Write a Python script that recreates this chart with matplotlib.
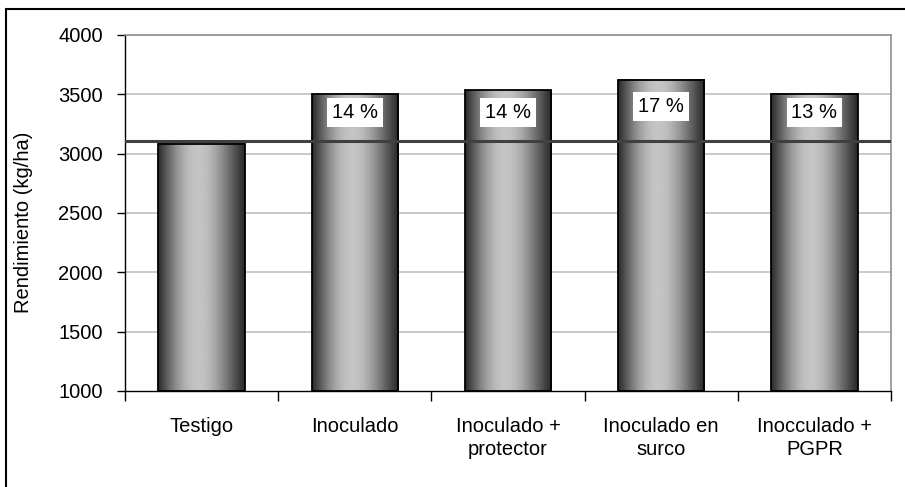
import numpy as np
import matplotlib
matplotlib.use("Agg")
import matplotlib.pyplot as plt
from matplotlib.patches import Rectangle

# Data
categories = ["Testigo", "Inoculado", "Inoculado +\nprotector", "Inoculado en\nsurco", "Inocculado +\nPGPR"]
rendimiento = [3085, 3500, 3534, 3625, 3506]
pct_labels = ["", "14 %", "14 %", "17 %", "13 %"]
pct_label_y = [None, 3345, 3345, 3396, 3345]
testigo_line = 3108

plt.rcParams["font.family"] = ["Liberation Sans", "DejaVu Sans"]
fs = 14.5

fig = plt.figure(figsize=(9.05, 4.87), dpi=100)
ax = fig.add_axes([125 / 905, 96 / 487, 766 / 905, 356 / 487])

ymin, ymax = 1000, 4000

# grid
ax.set_yticks(np.arange(1000, 4001, 500))
for yv in np.arange(1500, 4001, 500):
    ax.axhline(yv, color="#c0c0c0", linewidth=1.2, zorder=0)

# cylinder-like gradient bars
width = 0.565
t = np.linspace(0, 1, 200)
shade = 0.17 + 0.60 * np.sin(np.pi * t ** 0.9) ** 1.2
for i, v in enumerate(rendimiento):
    x0, x1 = i - width / 2, i + width / 2
    ax.imshow(shade[np.newaxis, :], cmap="gray", vmin=0, vmax=1,
              extent=[x0, x1, ymin, v], aspect="auto", zorder=2,
              interpolation="bilinear")
    ax.add_patch(Rectangle((x0, ymin), width, v - ymin, fill=False,
                           edgecolor="black", linewidth=1.3, zorder=3))

ax.set_xlim(-0.5, len(categories) - 0.5)
ax.set_ylim(ymin, ymax)

# reference line (testigo)
ax.axhline(testigo_line, color="#404040", linewidth=2.2, zorder=4)

# percentage labels
for i, (lab, yv) in enumerate(zip(pct_labels, pct_label_y)):
    if lab:
        ax.text(i, yv, lab, ha="center", va="center", fontsize=fs, zorder=5,
                bbox=dict(facecolor="white", edgecolor="none", pad=3.5))

# axes styling
for side in ["top", "right"]:
    ax.spines[side].set_color("#909090")
    ax.spines[side].set_linewidth(1.2)
for side in ["left", "bottom"]:
    ax.spines[side].set_color("black")
    ax.spines[side].set_linewidth(1.0)

ax.tick_params(axis="y", direction="out", length=6, width=1, labelsize=fs, pad=10)
ax.set_xticks(range(len(categories)))
ax.set_xticklabels(categories, fontsize=fs, linespacing=1.25)
ax.tick_params(axis="x", which="major", length=0, pad=19)
ax.set_xticks(np.arange(-0.5, len(categories)), minor=True)
ax.tick_params(axis="x", which="minor", direction="out", length=7, width=1)

ax.set_ylabel("Rendimiento (kg/ha)", fontsize=fs)
ax.yaxis.set_label_coords(-92 / 766, 0.475)

# outer frame of the chart
fig.patches.append(Rectangle((6 / 905, -0.1), 1.2, 1.1 - 9 / 487, fill=False,
                             edgecolor="black", linewidth=1.5,
                             transform=fig.transFigure, figure=fig))

fig.savefig("out.png", dpi=100)
